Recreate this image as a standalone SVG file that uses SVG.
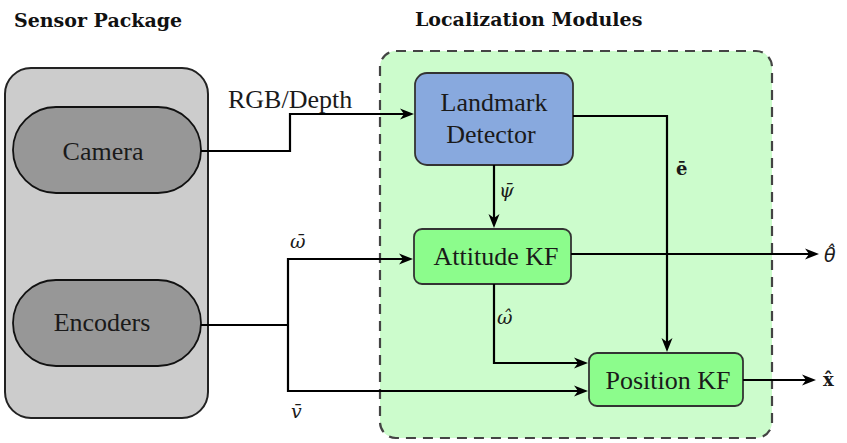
<svg xmlns="http://www.w3.org/2000/svg" width="847" height="443" viewBox="0 0 847 443">
<rect width="847" height="443" fill="#fff"/>
<text x="14" y="27" font-family="'DejaVu Serif', serif" font-weight="bold" font-size="19" fill="#111">Sensor Package</text>
<text x="415" y="26" font-family="'DejaVu Serif', serif" font-weight="bold" font-size="19" fill="#111">Localization Modules</text>

<g id="sensor-package">
<rect x="5" y="68" width="203" height="350" rx="26" fill="#cccccc" stroke="#222" stroke-width="2"/>
</g>
<g id="localization-modules">
<rect x="380" y="51" width="392" height="387" rx="16" fill="#ccfccc" stroke="#444" stroke-width="2.2" stroke-dasharray="10 7"/>
</g>
<g id="camera">
<rect x="13" y="107" width="188" height="86" rx="43" fill="#979797" stroke="#111" stroke-width="1.8"/>
<text x="103" y="160" font-family="'Liberation Serif', serif" font-size="26" fill="#1a1a1a" text-anchor="middle">Camera</text>
</g>
<g id="encoders">
<rect x="13" y="280" width="188" height="86" rx="43" fill="#979797" stroke="#111" stroke-width="1.8"/>
<text x="102" y="331" font-family="'Liberation Serif', serif" font-size="26" fill="#1a1a1a" text-anchor="middle">Encoders</text>
</g>
<g id="landmark-detector">
<rect x="415" y="73" width="158" height="92" rx="12" fill="#88a9de" stroke="#333" stroke-width="1.8"/>
<text x="494" y="111" font-family="'Liberation Serif', serif" font-size="26" fill="#1a1a1a" text-anchor="middle">Landmark</text>
<text x="491" y="143" font-family="'Liberation Serif', serif" font-size="26" fill="#1a1a1a" text-anchor="middle">Detector</text>
</g>
<g id="attitude-kf">
<rect x="414" y="229" width="157" height="55" rx="8" fill="#8cfc8c" stroke="#333" stroke-width="1.8"/>
<text x="496" y="265" font-family="'Liberation Serif', serif" font-size="26" fill="#1a1a1a" text-anchor="middle">Attitude KF</text>
</g>
<g id="position-kf">
<rect x="589" y="353" width="154" height="53" rx="8" fill="#8cfc8c" stroke="#333" stroke-width="1.8"/>
<text x="668" y="389" font-family="'Liberation Serif', serif" font-size="26" fill="#1a1a1a" text-anchor="middle">Position KF</text>
</g>

<g id="connectors">
<g fill="none" stroke="#000" stroke-width="2.2">
<path d="M201,151 H290 V114 H406"/>
<path d="M201,325 H288"/>
<path d="M288,325 V259 H405"/>
<path d="M288,325 V391 H580"/>
<path d="M494,165 V220"/>
<path d="M573,116 H667 V344"/>
<path d="M571,254 H811"/>
<path d="M494,284 V363 H580"/>
<path d="M743,380 H808"/>
</g>
<g fill="#000">
<path d="M414,114 L400,108.5 L404,114 L400,119.5 Z"/>
<path d="M413,259 L399,253.5 L403,259 L399,264.5 Z"/>
<path d="M588,391 L574,385.5 L578,391 L574,396.5 Z"/>
<path d="M494,228 L488.5,214 L494,218 L499.5,214 Z"/>
<path d="M667,352 L661.5,338 L667,342 L672.5,338 Z"/>
<path d="M819,254 L805,248.5 L809,254 L805,259.5 Z"/>
<path d="M588,363 L574,357.5 L578,363 L574,368.5 Z"/>
<path d="M816,380 L802,374.5 L806,380 L802,385.5 Z"/>
</g>
</g>
<g id="labels" fill="#1a1a1a">
<text x="228" y="108" font-family="'Liberation Serif', serif" font-size="26">RGB/Depth</text>
<text x="290" y="248" font-family="'DejaVu Serif', serif" font-style="italic" font-size="19">ω̄</text>
<text x="291" y="418" font-family="'DejaVu Serif', serif" font-style="italic" font-size="19">v̄</text>
<text x="499" y="197" font-family="'DejaVu Serif', serif" font-style="italic" font-size="19">ψ̄</text>
<text x="497" y="324" font-family="'DejaVu Serif', serif" font-style="italic" font-size="19">ω̂</text>
<text x="824" y="262" font-family="'DejaVu Sans', sans-serif" font-style="italic" font-size="19">θ̂</text>
<text x="676" y="175" font-family="'DejaVu Serif', serif" font-weight="bold" font-size="18">ē</text>
<text x="823" y="386" font-family="'DejaVu Serif', serif" font-weight="bold" font-size="18">x̂</text>
</g>
</svg>
